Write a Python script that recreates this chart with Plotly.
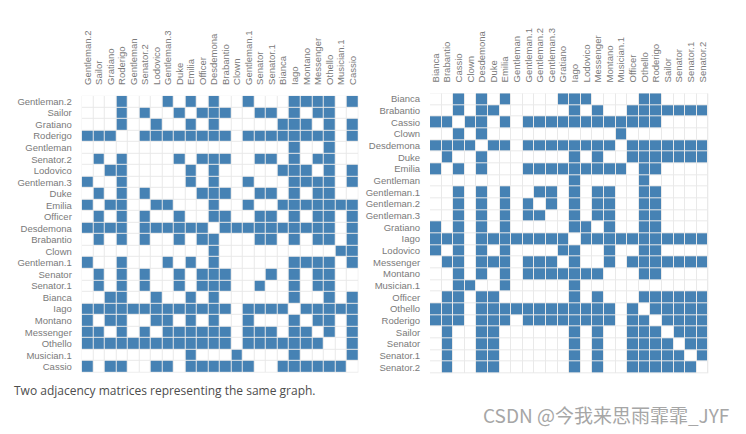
import plotly.graph_objects as go

# characters in alphabetical order (right-hand matrix)
characters = ['Bianca', 'Brabantio', 'Cassio', 'Clown', 'Desdemona', 'Duke', 'Emilia',
              'Gentleman', 'Gentleman.1', 'Gentleman.2', 'Gentleman.3', 'Gratiano', 'Iago',
              'Lodovico', 'Messenger', 'Montano', 'Musician.1', 'Officer', 'Othello',
              'Roderigo', 'Sailor', 'Senator', 'Senator.1', 'Senator.2']

# reordered characters (left-hand matrix)
left_order = ['Gentleman.2', 'Sailor', 'Gratiano', 'Roderigo', 'Gentleman', 'Senator.2',
              'Lodovico', 'Gentleman.3', 'Duke', 'Emilia', 'Officer', 'Desdemona', 'Brabantio',
              'Clown', 'Gentleman.1', 'Senator', 'Senator.1', 'Bianca', 'Iago', 'Montano',
              'Messenger', 'Othello', 'Musician.1', 'Cassio']

# adjacency rows, same order as characters (1 = edge)
adjacency_rows = [
    '001010100001110000110000',  # Bianca
    '001011000000101001111111',  # Brabantio
    '110110101111111111110000',  # Cassio
    '001010000000000010000000',  # Clown
    '111101101111111101111111',  # Desdemona
    '010010000000101001111111',  # Duke
    '101010001111111110110000',  # Emilia
    '000000000000100000100000',  # Gentleman
    '001010100110101100110000',  # Gentleman.1
    '001010101010101100110000',  # Gentleman.2
    '001010101100101100110000',  # Gentleman.3
    '101010100000110100110000',  # Gratiano
    '111011111111011111111111',  # Iago
    '101010100001100100110000',  # Lodovico
    '011011101110100101111111',  # Messenger
    '001010101111111000110000',  # Montano
    '001100100000100000000000',  # Musician.1
    '011011000000101000111111',  # Officer
    '111011111111111101011111',  # Othello
    '111011101111111101101111',  # Roderigo
    '010011000000101001110111',  # Sailor
    '010011000000101001111011',  # Senator
    '010011000000101001111101',  # Senator.1
    '010011000000101001111110',  # Senator.2
]

caption = 'Two adjacency matrices representing the same graph.'
watermark = 'CSDN @今我来思雨霏霏_JYF'

adj = {}
for name, row in zip(characters, adjacency_rows):
    adj[name] = {other: int(v) for other, v in zip(characters, row)}


def matrix(order):
    return [[adj[r][c] for c in order] for r in order]


blue = '#4682b4'
colorscale = [[0, '#ffffff'], [1, blue]]

fig = go.Figure()
fig.add_trace(go.Heatmap(z=matrix(left_order), x=left_order, y=left_order,
                         xaxis='x', yaxis='y', colorscale=colorscale, zmin=0, zmax=1,
                         showscale=False, xgap=1, ygap=1, hoverinfo='skip'))
fig.add_trace(go.Heatmap(z=matrix(characters), x=characters, y=characters,
                         xaxis='x2', yaxis='y2', colorscale=colorscale, zmin=0, zmax=1,
                         showscale=False, xgap=1, ygap=1, hoverinfo='skip'))

# the page body keeps an 8px margin, so the figure is drawn 8px smaller and
# positions below are taken from the reference minus that offset
OFF = 8
W, H = 746 - OFF, 434 - OFF


def px(v):
    return (v - OFF) / W


def py(v):
    return 1 - (v - OFF) / H


tickfont = dict(family='Liberation Sans, Arial, sans-serif', size=9.5, color='#7a7a7a')
xcommon = dict(side='top', tickangle=-90, showgrid=False, zeroline=False, showline=False,
               ticks='outside', ticklen=8, tickcolor='rgba(0,0,0,0)', tickfont=tickfont,
               fixedrange=True)
ycommon = dict(autorange='reversed', showgrid=False, zeroline=False, showline=False,
               ticks='outside', ticklen=7, tickcolor='rgba(0,0,0,0)', tickfont=tickfont,
               fixedrange=True)

fig.update_layout(
    width=W, height=H,
    margin=dict(l=0, r=0, t=0, b=0),
    paper_bgcolor='white',
    plot_bgcolor='#e9e9e9',
    xaxis=dict(domain=[px(81.7), px(358.3)], anchor='y', **xcommon),
    yaxis=dict(domain=[py(372.6), py(95.8)], anchor='x', **ycommon),
    xaxis2=dict(domain=[px(430), px(708.3)], anchor='y2', **xcommon),
    yaxis2=dict(domain=[py(373.3), py(93.3)], anchor='x2', **ycommon),
    annotations=[
        dict(text=caption, x=px(12), y=py(390.5), xref='paper', yref='paper',
             xanchor='left', yanchor='middle', showarrow=False,
             font=dict(family='Open Sans, sans-serif', size=12, color='#4d4d4d')),
        dict(text=watermark, x=px(731), y=py(414), xref='paper', yref='paper',
             xanchor='right', yanchor='middle', showarrow=False,
             font=dict(family='Noto Sans CJK SC, sans-serif', size=19, color='#a6a6a6')),
    ],
)

fig.write_html('out.html')
